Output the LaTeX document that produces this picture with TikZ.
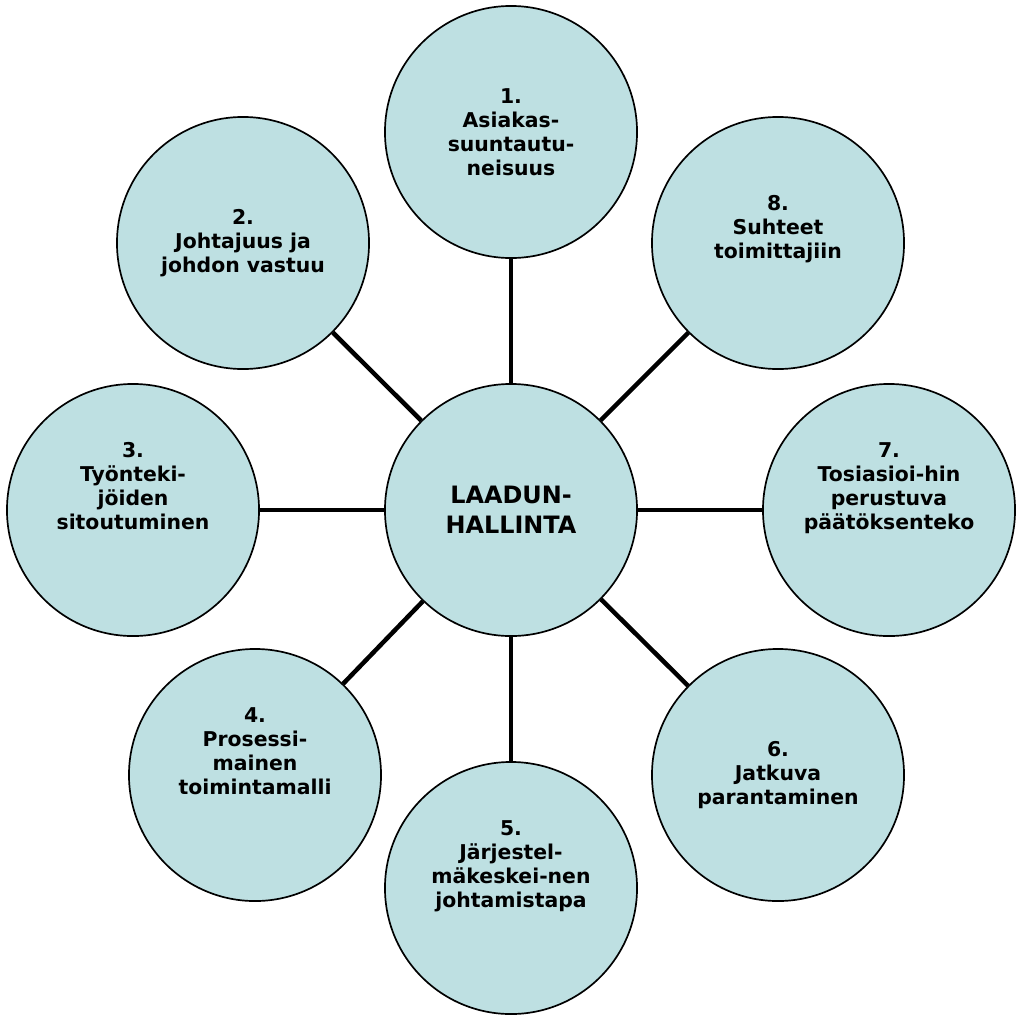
\documentclass[tikz,border=0pt]{standalone}
\usepackage{fontspec}
\setmainfont{DejaVu Sans}
\usepackage{xcolor}
\definecolor{petal}{RGB}{190,224,226}
\tikzset{
    hub/.style={circle, draw, line width=1.2pt, fill=petal, minimum size=6.3cm, text centered, align=center, font=\bfseries\fontsize{17}{21}\selectfont},
    topic/.style={circle, draw, line width=1.2pt, fill=petal, minimum size=6.3cm, text centered, align=center, font=\bfseries\fontsize{14.5}{17}\selectfont},
    spoke/.style={line width=3.2pt}
}
\begin{document}
\begin{tikzpicture}[x=0.025cm, y=-0.025cm]
    \useasboundingbox (0,0) rectangle (1024,1020);
    % Centre
    \node[hub] (quality) at (511,510) {LAADUN-\\HALLINTA};

    % Principles
    \node[topic] (customer) at (511,132) {1.\\Asiakas-\\suuntautu-\\neisuus};
    \node[topic] (leadership) at (243,243) {2.\\Johtajuus ja\\johdon vastuu};
    \node[topic] (people) at (133,510) {3.\\Työnteki-\\jöiden\\sitoutuminen\\[1.2em]};
    \node[topic] (process) at (255,775) {4.\\Prosessi-\\mainen\\toimintamalli\\[1.2em]};
    \node[topic] (system) at (511,888) {5.\\Järjestel-\\mäkeskei-nen\\johtamistapa\\[1.2em]};
    \node[topic] (improve) at (778,775) {6.\\Jatkuva\\parantaminen};
    \node[topic] (facts) at (889,510) {7.\\Tosiasioi-hin\\perustuva\\päätöksenteko\\[1.2em]};
    \node[topic] (suppliers) at (778,243) {8.\\Suhteet\\toimittajiin\\[0.4em]};

    % Spokes
    \foreach \n in {customer, leadership, people, process, system, improve, facts, suppliers}
        \draw[spoke] (quality) -- (\n);
\end{tikzpicture}
\end{document}
